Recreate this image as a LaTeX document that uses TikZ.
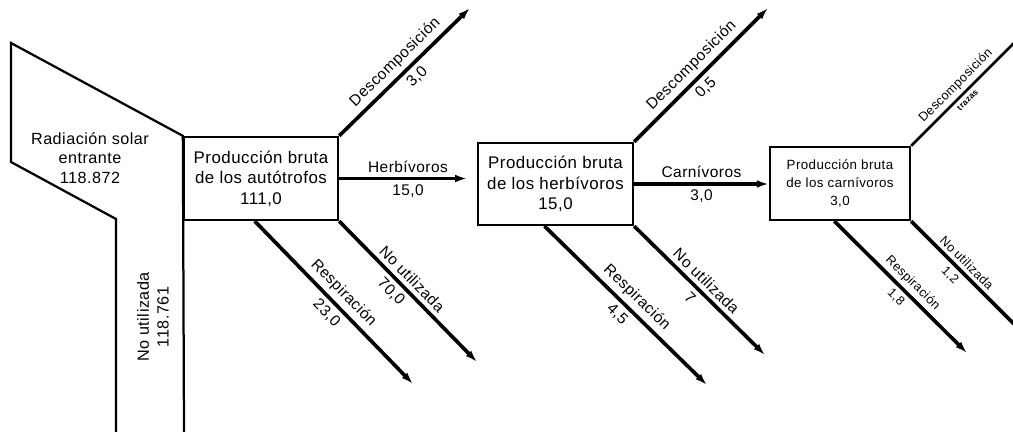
\documentclass[tikz,border=0pt]{standalone}
\usepackage{fontspec}
\setmainfont{Liberation Sans}[LetterSpace=3]
\usetikzlibrary{arrows.meta,calc}

\tikzset{
  prodbox/.style={draw, line width=1.6pt, align=center, inner sep=0pt,
    font=\fontsize{12}{14.5}\selectfont},
  flow/.style={line width=2.6pt, -{Latex[length=8.5pt,width=5.5pt]}},
  lbl/.style={sloped, inner sep=3pt, font=\fontsize{11}{13}\selectfont},
  smlbl/.style={sloped, inner sep=2.5pt, font=\fontsize{9}{11}\selectfont},
}

\begin{document}
\begin{tikzpicture}[x=0.025cm,y=-0.025cm]
\useasboundingbox (0,0) rectangle (1013,432);
\clip (0,0) rectangle (1013,432);

% boxes
\node[prodbox, minimum width=3.85cm, minimum height=2.075cm] (aut) at (261,178.5)
  {Producción bruta\\de los autótrofos\\111,0};
\node[prodbox, minimum width=3.875cm, minimum height=2.05cm] (her) at (555.5,184)
  {Producción bruta\\de los herbívoros\\15,0};
\node[prodbox, minimum width=3.5cm, minimum height=1.825cm,
  font=\fontsize{9.5}{13}\selectfont] (car) at (840,183.5)
  {Producción bruta\\de los carnívoros\\3,0};

% incoming radiation
\draw[line width=1.6pt] (184,432) -- (aut.north west) -- (11,43) -- (11,162)
  -- (116,219) -- (116,432);
\node[align=center, font=\fontsize{11.5}{14}\selectfont] (rad) at (90,158)
  {Radiación solar\\entrante\\118.872};
\node[align=center, rotate=90, font=\fontsize{11.5}{14}\selectfont] (nour) at (153,317)
  {No utilizada\\118.761};

% free ends
\coordinate (d1) at (470,8);
\coordinate (d2) at (768,8);
\coordinate (d3) at (1030,27);
\coordinate (r1) at (413,384);
\coordinate (n1) at (477,362);
\coordinate (r2) at (707,385);
\coordinate (n2) at (765,355);
\coordinate (r3) at (967,353);
\coordinate (n3) at (1030,340);

% autotrofos
\draw[flow, shorten >=7pt] (aut.east) -- (aut.east -| her.west)
  node[lbl, above, midway] {Herbívoros} node[lbl, below, midway] {15,0};
\draw[flow] (aut.north east) -- (d1)
  node[lbl, above, pos=.5] {Descomposición} node[lbl, below, pos=.53] {3,0};
\draw[flow] ($(aut.south west)!.46!(aut.south east)$) -- (r1)
  node[lbl, above, pos=.5] {Respiración} node[lbl, below, pos=.51] {23,0};
\draw[flow] (aut.south east) -- (n1)
  node[lbl, above, pos=.47] {No utilizada} node[lbl, below, pos=.44] {70,0};

% herbivoros
\draw[flow] (her.east) -- (her.east -| car.west)
  node[lbl, above, midway] {Carnívoros} node[lbl, below, midway] {3,0};
\draw[flow] (her.north east) -- (d2)
  node[lbl, above, pos=.5] {Descomposición} node[lbl, below, pos=.47] {0,5};
\draw[flow] ($(her.south west)!.43!(her.south east)$) -- (r2)
  node[lbl, above, pos=.51] {Respiración} node[lbl, below, pos=.5] {4,5};
\draw[flow] (her.south east) -- (n2)
  node[lbl, above, pos=.49] {No utilizada} node[lbl, below, pos=.49] {7};

% carnivoros
\draw[line width=1.8pt] (car.north east) -- (d3)
  node[smlbl, above, pos=.44] {Descomposición}
  node[smlbl, below, pos=.43, font=\fontsize{6}{7}\bfseries] {trazas};
\draw[flow] ($(car.south west)!.46!(car.south east)$) -- (r3)
  node[smlbl, above, pos=.53] {Respiración} node[smlbl, below, pos=.52] {1,8};
\draw[line width=2.6pt] (car.south east) -- (n3)
  node[smlbl, above, pos=.41] {No utilizada} node[smlbl, below, pos=.39] {1,2};
\end{tikzpicture}
\end{document}
